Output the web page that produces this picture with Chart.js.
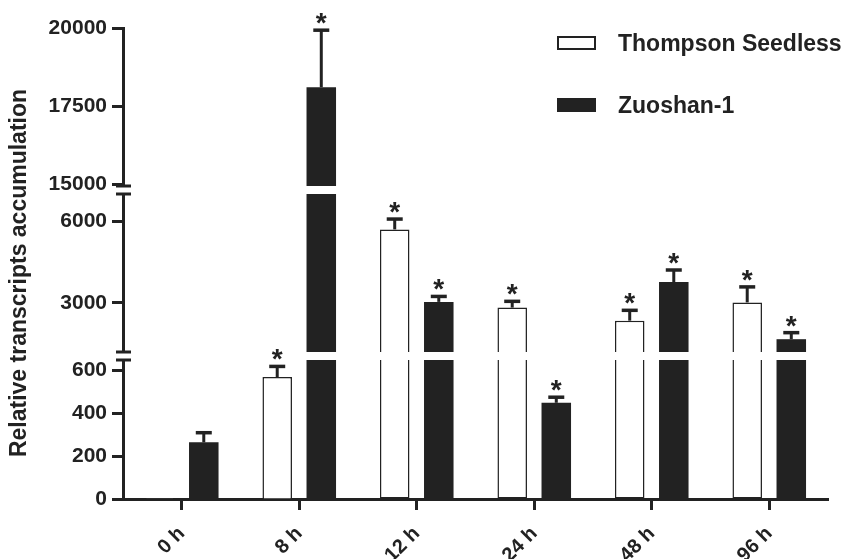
<!DOCTYPE html>
<html>
<head>
<meta charset="utf-8">
<title>Relative transcripts accumulation</title>
<script src="https://cdn.jsdelivr.net/npm/chart.js@4.4.0/dist/chart.umd.min.js"></script>
<style>
    html, body { margin: 0; padding: 0; background: #fff; }
    #wrap { position: relative; width: 845px; height: 559px; }
    #legend {
        position: absolute;
        left: 557px;
        top: 30px;
        font: bold 23px "Liberation Sans", Arial, sans-serif;
        color: #222;
    }
    .legend-item { display: flex; align-items: center; height: 26px; margin-bottom: 36px; }
    .legend-swatch { width: 35px; height: 10px; border: 2px solid #222; margin-right: 22px; }
</style>
</head>
<body>
<div id="wrap">
    <canvas id="chart" width="845" height="559"></canvas>
    <div id="legend"></div>
</div>
<script>
const timeLabels = ['0 h', '8 h', '12 h', '24 h', '48 h', '96 h'];

const thompsonMeans = [1, 570, 5700, 2830, 2350, 3020];
const thompsonErrors = [0, 50, 380, 230, 380, 570];
const thompsonStars = [false, true, true, true, true, true];

const zuoshanMeans = [265, 18100, 3040, 450, 3770, 1670];
const zuoshanErrors = [45, 1830, 200, 26, 440, 240];
const zuoshanStars = [false, true, true, true, true, true];

// broken y axis: three segments
const bottomRange = [0, 650];
const middleRange = [1200, 7000];
const topRange = [14936, 20000];
const bottomTicks = [0, 200, 400, 600];
const middleTicks = [3000, 6000];
const topTicks = [15000, 17500, 20000];

const INK = '#222';

const segments = [
    { id: 'yBot', range: bottomRange },
    { id: 'yMid', range: middleRange },
    { id: 'yTop', range: topRange }
];

const series = [
    { name: 'Thompson Seedless', stack: 'ts', means: thompsonMeans, errors: thompsonErrors, stars: thompsonStars, fill: '#fff', border: INK, borderWidth: 1.5 },
    { name: 'Zuoshan-1', stack: 'zs', means: zuoshanMeans, errors: zuoshanErrors, stars: zuoshanStars, fill: INK, border: INK, borderWidth: 0 }
];

document.addEventListener('DOMContentLoaded', () => {
    Chart.defaults.font.family = '"Liberation Sans", Arial, sans-serif';
    Chart.defaults.color = INK;
    buildLegend();
    drawChart();
});

function segmentData(values, range) {
    return values.map(v => (v > range[0] ? [range[0], Math.min(v, range[1])] : null));
}

function buildDatasets() {
    const datasets = [];
    series.forEach(s => {
        s.firstDataset = datasets.length;
        segments.forEach(seg => {
            datasets.push({
                label: s.name,
                data: segmentData(s.means, seg.range),
                yAxisID: seg.id,
                stack: s.stack,
                backgroundColor: s.fill,
                borderColor: s.border,
                borderWidth: s.borderWidth,
                borderSkipped: ctx => (s.means[ctx.dataIndex] > seg.range[1] ? 'end' : 'start'),
                categoryPercentage: 0.75,
                barPercentage: 0.67
            });
        });
    });
    return datasets;
}

function yAxis(range, ticks, stackWeight, weight) {
    return {
        type: 'linear',
        axis: 'y',
        position: 'left',
        stack: 'y',
        stackWeight: stackWeight,
        weight: weight,
        stacked: false,
        min: range[0],
        max: range[1],
        border: { color: INK, width: 3 },
        grid: { drawOnChartArea: false, color: INK, tickColor: INK, tickLength: 11, tickWidth: 3 },
        ticks: {
            color: INK,
            padding: 5,
            autoSkip: false,
            font: { size: 21, weight: 'bold' },
            callback: value => String(value)
        },
        afterBuildTicks: scale => { scale.ticks = ticks.map(value => ({ value })); },
        afterFit: scale => { scale.width = 123; }
    };
}

function gapAxis(stackWeight, weight) {
    return { type: 'linear', axis: 'y', position: 'left', display: false, stack: 'y', stackWeight: stackWeight, weight: weight };
}

function scaleFor(chart, value) {
    const seg = segments.find(s => value > s.range[0] && value <= s.range[1]);
    return seg ? chart.scales[seg.id] : null;
}

const errorBarPlugin = {
    id: 'errorBars',
    afterDatasetsDraw(chart) {
        const ctx = chart.ctx;
        ctx.save();
        ctx.strokeStyle = INK;
        ctx.fillStyle = INK;
        series.forEach(s => {
            const meta = chart.getDatasetMeta(s.firstDataset);
            s.means.forEach((v, i) => {
                const scale = scaleFor(chart, v);
                const bar = meta.data[i];
                if (!scale || !bar || !s.errors[i]) return;
                const x = bar.x;
                const yBar = scale.getPixelForValue(v);
                const yErr = scale.getPixelForValue(v + s.errors[i]);

                ctx.lineWidth = 3;
                ctx.beginPath();
                ctx.moveTo(x, yBar);
                ctx.lineTo(x, yErr);
                ctx.stroke();

                ctx.lineWidth = 3.5;
                ctx.beginPath();
                ctx.moveTo(x - 8, yErr);
                ctx.lineTo(x + 8, yErr);
                ctx.stroke();

                if (s.stars[i]) {
                    ctx.font = 'bold 28px "Liberation Sans", Arial, sans-serif';
                    ctx.textAlign = 'center';
                    ctx.textBaseline = 'alphabetic';
                    ctx.fillText('*', x, yErr + 2);
                }
            });
        });
        ctx.restore();
    }
};

// little caps where the y axis is broken
const axisBreakPlugin = {
    id: 'axisBreaks',
    afterDraw(chart) {
        const ctx = chart.ctx;
        const { yBot, yMid, yTop } = chart.scales;
        const x = yMid.right;
        ctx.save();
        ctx.strokeStyle = INK;
        ctx.lineWidth = 3;
        [yTop.bottom, yMid.top, yMid.bottom, yBot.top].forEach(y => {
            ctx.beginPath();
            ctx.moveTo(x - 7, y);
            ctx.lineTo(x + 8, y);
            ctx.stroke();
        });
        ctx.restore();
    }
};

function drawChart() {
    const ctx = document.getElementById('chart').getContext('2d');
    const midAxis = yAxis(middleRange, middleTicks, 158, 3);
    midAxis.title = {
        display: true,
        text: 'Relative transcripts accumulation',
        color: INK,
        font: { size: 23, weight: 'bold' },
        padding: { top: 6, bottom: 0 }
    };

    new Chart(ctx, {
        type: 'bar',
        data: {
            labels: timeLabels,
            datasets: buildDatasets()
        },
        options: {
            responsive: false,
            animation: false,
            layout: { padding: { top: 28, right: 17, bottom: 0, left: 0 } },
            plugins: {
                legend: { display: false },
                tooltip: { enabled: false }
            },
            scales: {
                x: {
                    type: 'category',
                    offset: true,
                    border: { color: INK, width: 3 },
                    grid: { offset: false, drawOnChartArea: false, color: INK, tickColor: INK, tickLength: 11, tickWidth: 3 },
                    ticks: {
                        color: INK,
                        autoSkip: false,
                        minRotation: 45,
                        maxRotation: 45,
                        padding: 12,
                        font: { size: 20, weight: 'bold' }
                    },
                    afterFit: scale => { scale.height = 60; }
                },
                yTop: yAxis(topRange, topTicks, 158, 5),
                gapA: gapAxis(8, 4),
                yMid: midAxis,
                gapB: gapAxis(8, 2),
                yBot: yAxis(bottomRange, bottomTicks, 139, 1)
            }
        },
        plugins: [errorBarPlugin, axisBreakPlugin]
    });
}

function buildLegend() {
    const legend = document.getElementById('legend');
    legend.innerHTML = series.map(s => `
        <div class="legend-item">
            <span class="legend-swatch" style="background:${s.fill}"></span>
            <span>${s.name}</span>
        </div>
    `).join('');
}
</script>
</body>
</html>
